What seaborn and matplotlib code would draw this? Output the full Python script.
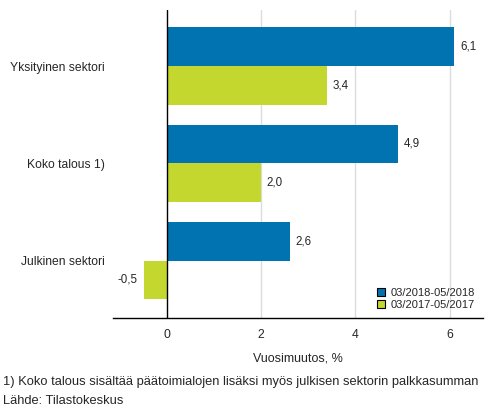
import pandas as pd
import matplotlib
matplotlib.use("Agg")
import matplotlib.pyplot as plt
import seaborn as sns

categories = ["Yksityinen sektori", "Koko talous 1)", "Julkinen sektori"]
periods = ["03/2018-05/2018", "03/2017-05/2017"]
values_2018 = [6.1, 4.9, 2.6]
values_2017 = [3.4, 2.0, -0.5]
colors = ["#0073b0", "#c3d72e"]
xticks = [0, 2, 4, 6]

df = pd.DataFrame({
    "sektori": categories * 2,
    "jakso": [periods[0]] * 3 + [periods[1]] * 3,
    "muutos": values_2018 + values_2017,
})

sns.set_style("white")
plt.rcParams["font.family"] = ["Liberation Sans", "DejaVu Sans"]

fig = plt.figure(figsize=(4.93, 4.16), dpi=100)
ax = fig.add_axes([0.229, 0.236, 0.751, 0.740])

sns.barplot(data=df, y="sektori", x="muutos", hue="jakso", orient="h",
            palette=colors, saturation=1, errorbar=None, width=0.8,
            linewidth=0, ax=ax)

for cont, vals in zip(ax.containers, [values_2018, values_2017]):
    ax.bar_label(cont, labels=[f"{v:.1f}".replace(".", ",") for v in vals],
                 padding=4, fontsize=8.3)

ax.set_xlim(-1.15, 6.71)
ax.set_ylim(2.59, -0.58)
ax.set_xticks(xticks)
ax.set_xticklabels([str(t) for t in xticks], fontsize=8.7)
ax.tick_params(axis="y", labelsize=8.7, length=0, pad=6)
ax.tick_params(axis="x", length=0, pad=8)
for t in xticks[1:]:
    ax.axvline(t, color="#dcdcdc", lw=1, zorder=0)
ax.axvline(0, color="black", lw=1, zorder=3)
for s in ["top", "right", "left"]:
    ax.spines[s].set_visible(False)
ax.spines["bottom"].set_color("black")
ax.spines["bottom"].set_linewidth(1)
ax.set_ylabel("")
ax.set_xlabel("Vuosimuutos, %", fontsize=9, labelpad=8)

leg = ax.legend(loc="lower right", frameon=False, fontsize=8,
                handlelength=0.8, handleheight=0.8, handletextpad=0.5,
                labelspacing=0.2, borderaxespad=0.3)
for h in leg.legend_handles:
    h.set_edgecolor("black")
    h.set_linewidth(0.8)

fig.text(0.006, 0.082, "1) Koko talous sisältää päätoimialojen lisäksi myös julkisen sektorin palkkasumman",
         fontsize=9.3, va="center")
fig.text(0.006, 0.036, "Lähde: Tilastokeskus", fontsize=9.3, va="center")

fig.savefig("out.png", dpi=100)
